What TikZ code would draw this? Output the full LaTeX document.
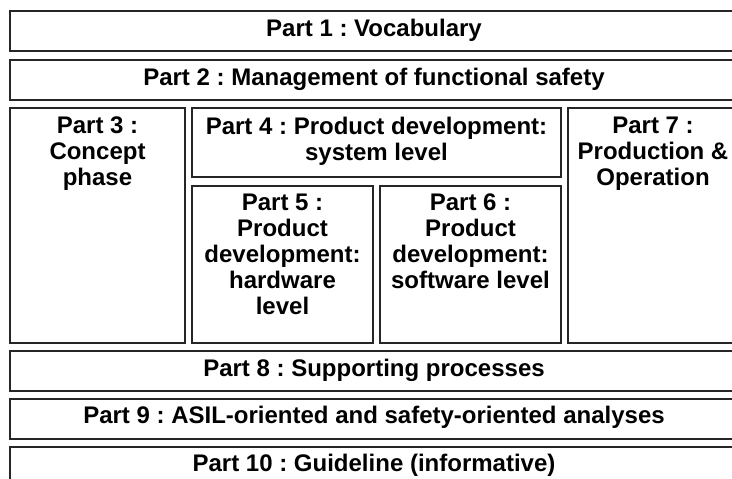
\documentclass[tikz,border=0pt]{standalone}
\usepackage{fontspec}
\setmainfont{Liberation Sans}
\frenchspacing
\begin{document}
\begin{tikzpicture}[x=1pt,y=-1pt,
  part/.style={draw=black!85, line width=1.6pt},
  lbl/.style={font=\fontsize{24}{26}\selectfont\bfseries\frenchspacing, align=center, inner sep=0pt, text=black}]
\useasboundingbox (0,0) rectangle (732,479);
\clip (0,0) rectangle (732,479);
% boxes
\draw[part] (10,11) rectangle (738,51);
\draw[part] (10,60) rectangle (738,100);
\draw[part] (10,108) rectangle (185,343);
\draw[part] (192,108) rectangle (561,177);
\draw[part] (192,186) rectangle (373,343);
\draw[part] (380,186) rectangle (561,343);
\draw[part] (568,108) rectangle (738,343);
\draw[part] (10,351) rectangle (738,391);
\draw[part] (10,399) rectangle (738,439);
\draw[part] (10,447) rectangle (738,495);
% labels
\node[lbl, anchor=base] (t1) at (374,36) {Part 1 : Vocabulary};
\node[lbl, anchor=base] (t2) at (374,85) {Part 2 : Management of functional safety};
\node[lbl, anchor=north] (t3) at (97.5,116.8) {Part 3 :\\Concept\\phase};
\node[lbl, anchor=north] (t4) at (376.5,116.8) {Part 4 : Product development:\\system level};
\node[lbl, anchor=north] (t5) at (282.5,193.5) {Part 5 :\\Product\\development:\\hardware\\level};
\node[lbl, anchor=north] (t6) at (470.5,193.5) {Part 6 :\\Product\\development:\\software level};
\node[lbl, anchor=north] (t7) at (653,116.8) {Part 7 :\\Production \&\\Operation};
\node[lbl, anchor=base] (t8) at (374,376) {Part 8 : Supporting processes};
\node[lbl, anchor=base] (t9) at (374,423) {Part 9 : ASIL-oriented and safety-oriented analyses};
\node[lbl, anchor=base] (t10) at (374,471) {Part 10 : Guideline (informative)};
\end{tikzpicture}
\end{document}
